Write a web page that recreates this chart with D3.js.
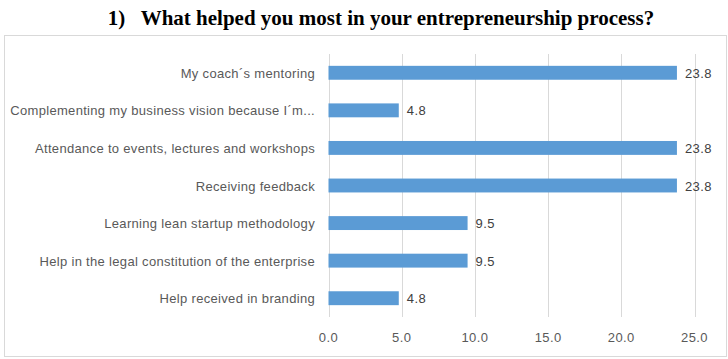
<!DOCTYPE html>
<html><head><meta charset="utf-8">
<script src="https://cdn.jsdelivr.net/npm/d3@7"></script>
<style>body{margin:0;background:#fff}</style>
</head><body>
<svg id="c" width="728" height="359"></svg>
<script>
const categories = [
  "My coach´s mentoring",
  "Complementing my business vision because I´m...",
  "Attendance to events, lectures and workshops",
  "Receiving feedback",
  "Learning lean startup methodology",
  "Help in the legal constitution of the enterprise",
  "Help received in branding"
];
const values = [23.8, 4.8, 23.8, 23.8, 9.5, 9.5, 4.8];
const xTicks = [0, 5, 10, 15, 20, 25];
const title = "1)   What helped you most in your entrepreneurship process?";

const svg = d3.select("#c");
svg.append("text").attr("x", 381).attr("y", 25).attr("text-anchor", "middle")
  .style("white-space", "pre")
  .attr("font-family", "Liberation Serif, Times New Roman, serif").attr("font-weight", "bold")
  .attr("font-size", 21).attr("fill", "#000").text(title);
svg.append("rect").attr("x", 4.5).attr("y", 35.5).attr("width", 722).attr("height", 321)
  .attr("fill", "#fff").attr("stroke", "#d9d9d9");

const x = d3.scaleLinear().domain([0, 25]).range([328.5, 694.5]);
const y = d3.scaleBand().domain(categories).range([54, 317]).paddingInner(0.63).paddingOuter(0.315);

const font = "Liberation Sans, Arial, sans-serif";
const g = svg.append("g");
g.selectAll("line.grid").data(xTicks).join("line").attr("class", "grid")
  .attr("x1", d => Math.round(x(d)) + 0.5).attr("x2", d => Math.round(x(d)) + 0.5)
  .attr("y1", 54).attr("y2", 317).attr("stroke", "#d9d9d9");
g.selectAll("text.tick").data(xTicks).join("text").attr("class", "tick")
  .attr("x", d => x(d)).attr("y", 342).attr("text-anchor", "middle")
  .attr("font-family", font).attr("font-size", 13).attr("letter-spacing", 0.4)
  .attr("fill", "#595959").text(d => d.toFixed(1));
g.selectAll("rect.bar").data(values).join("rect").attr("class", "bar")
  .attr("x", x(0)).attr("y", (d, i) => y(categories[i]))
  .attr("width", d => x(d) - x(0)).attr("height", y.bandwidth()).attr("fill", "#5b9bd5");
g.selectAll("text.val").data(values).join("text").attr("class", "val")
  .attr("x", d => x(d) + 8).attr("y", (d, i) => y(categories[i]) + y.bandwidth() / 2 + 5)
  .attr("font-family", font).attr("font-size", 13).attr("letter-spacing", 0.4)
  .attr("fill", "#404040").text(d => d.toFixed(1));
g.selectAll("text.cat").data(categories).join("text").attr("class", "cat")
  .attr("x", 315).attr("y", d => y(d) + y.bandwidth() / 2 + 5).attr("text-anchor", "end")
  .attr("font-family", font).attr("font-size", 13).attr("letter-spacing", 0.32)
  .attr("fill", "#595959").text(d => d);
</script>
</body></html>
